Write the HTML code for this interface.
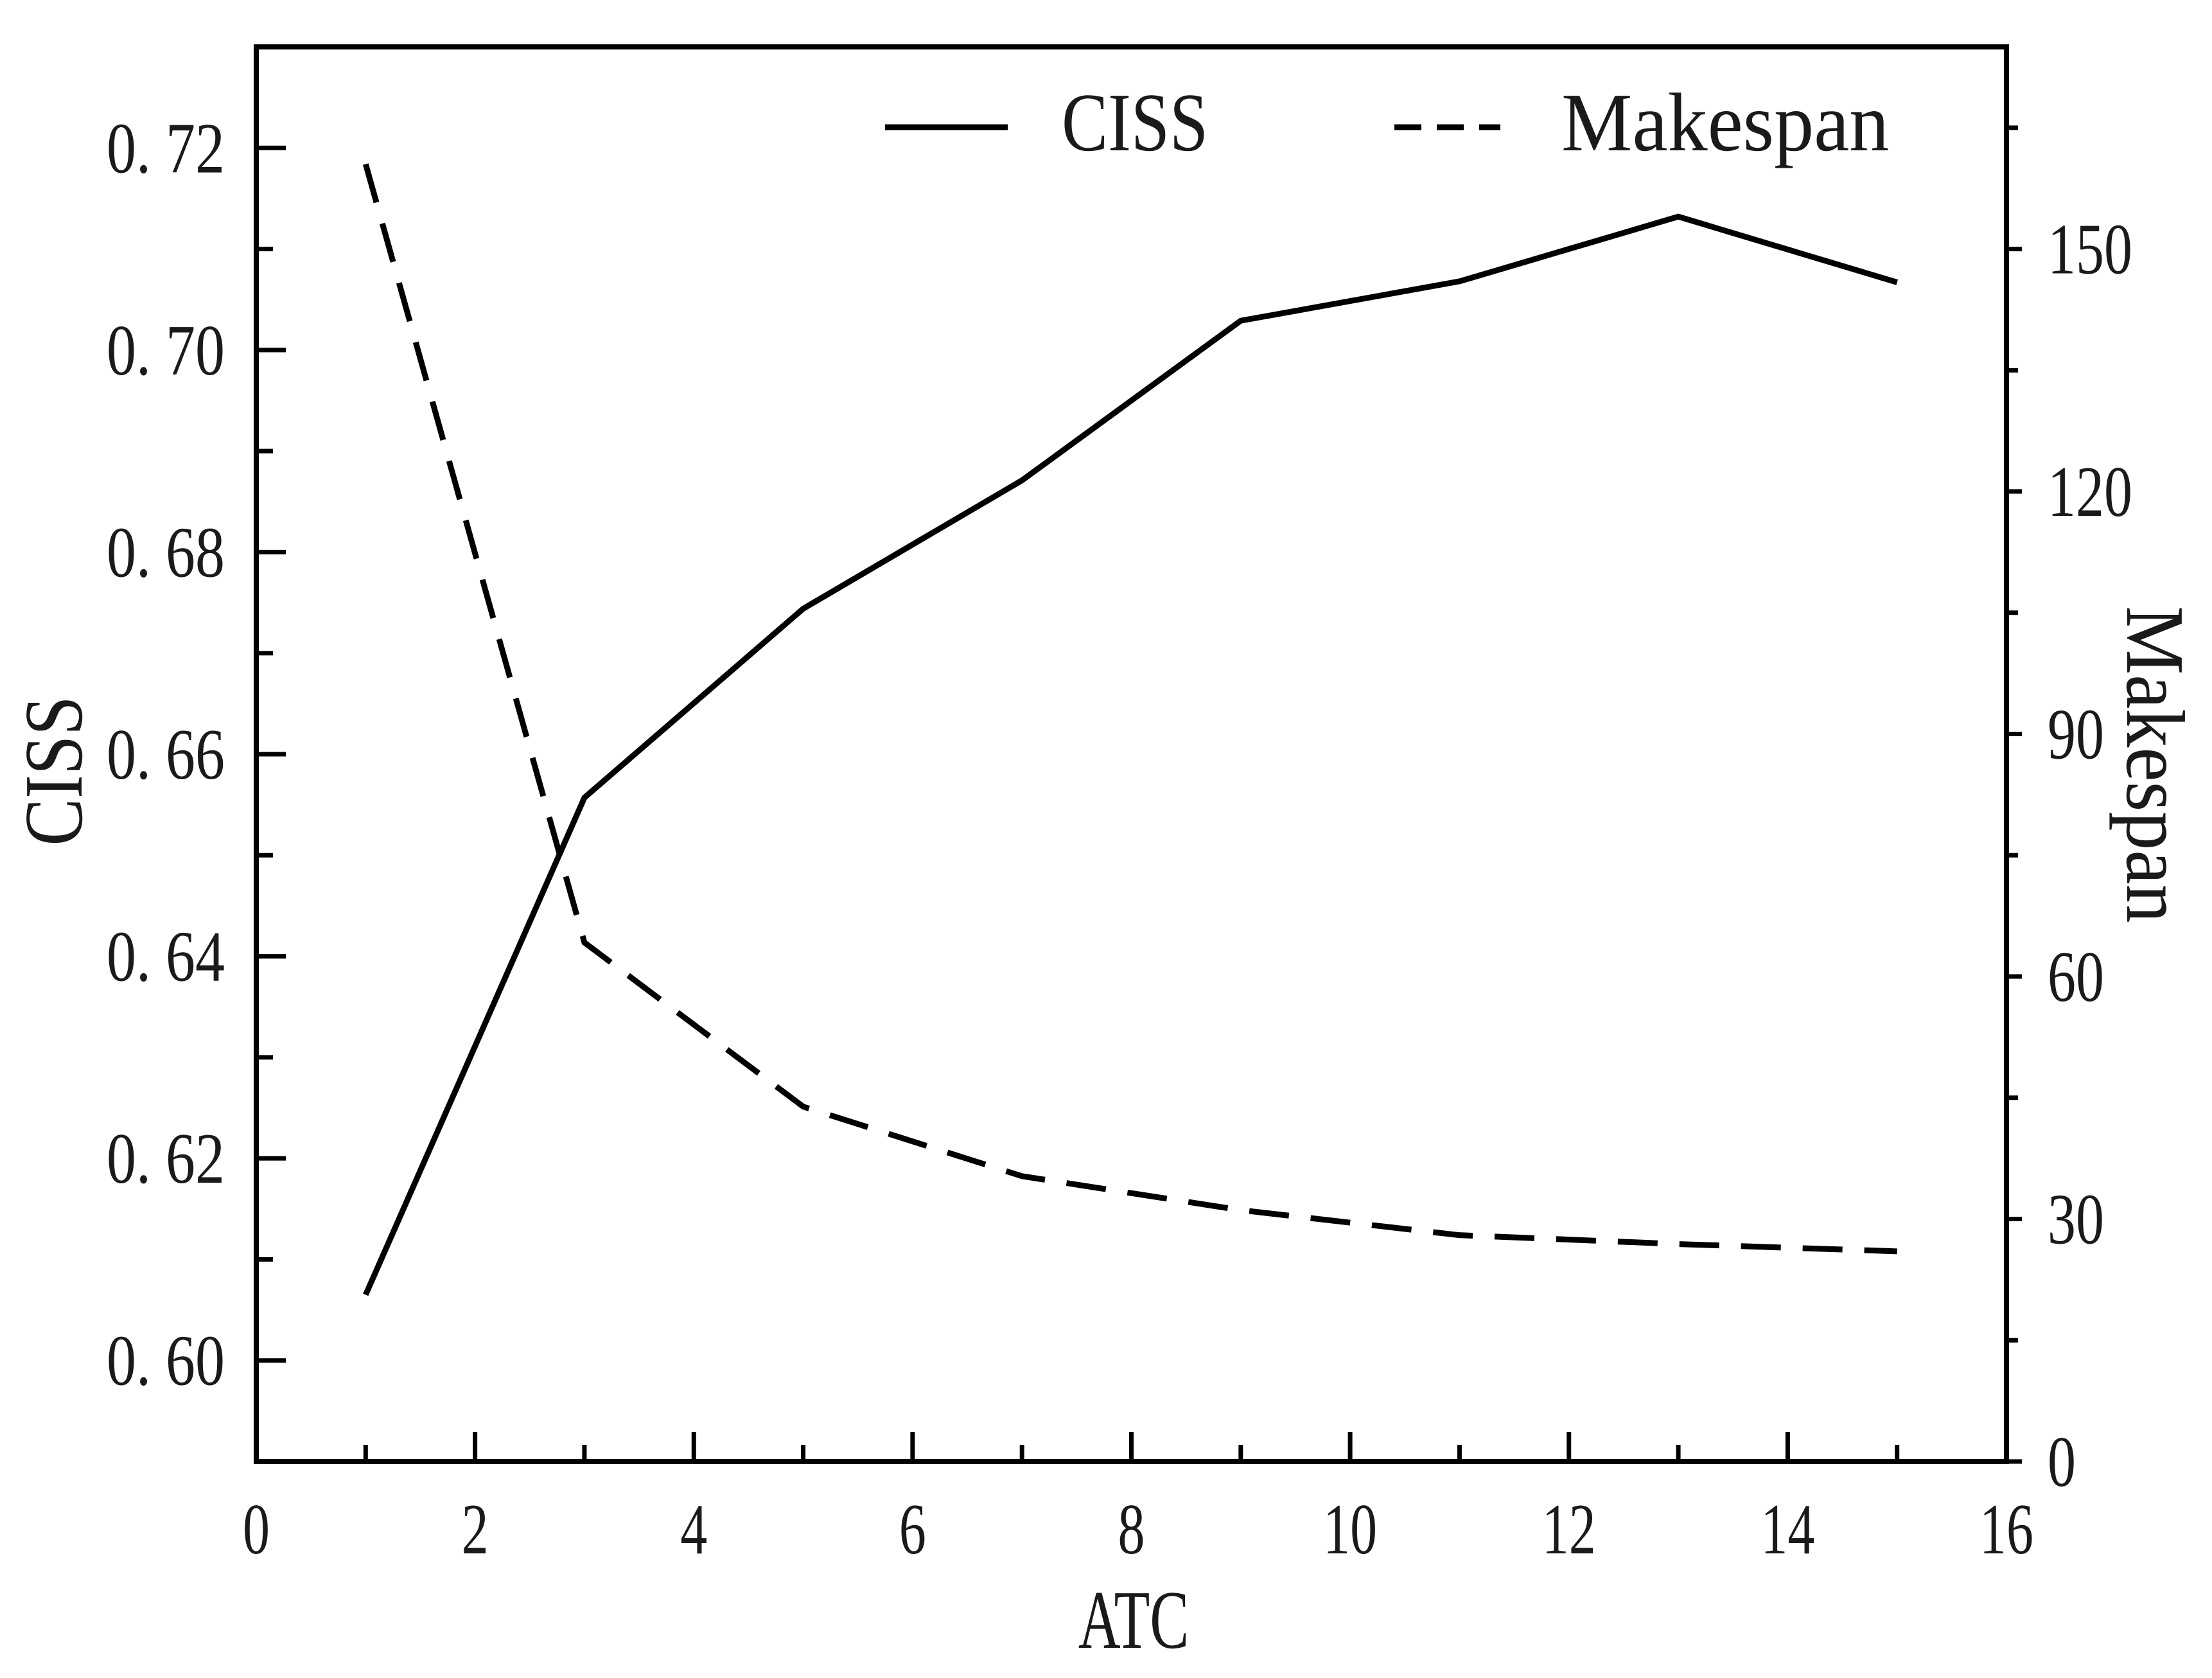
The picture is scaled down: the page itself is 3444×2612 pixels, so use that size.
<!DOCTYPE html>
<html><head><meta charset="utf-8"><style>
html,body{margin:0;padding:0;background:#fff;}
svg text{font-family:"Liberation Serif","Noto Serif CJK SC",serif;fill:#1a1a1a;}
</style></head><body>
<svg id="chart" width="3444" height="2607" xmlns="http://www.w3.org/2000/svg"></svg>
<script>
const xCats = [1,3,5,7,9,11,13,15];
const cissVals = [0.6065,0.6557,0.6744,0.6871,0.7029,0.7068,0.7132,0.7067];
const makespanVals = [160.5,64.2,43.9,35.3,31.1,28.0,26.9,26.0];
const xTicks = [0,2,4,6,8,10,12,14,16];
const leftTicks = [0.60,0.62,0.64,0.66,0.68,0.70,0.72];
const rightTicks = [0,30,60,90,120,150];

const L=399,R=3124,T=73,B=2275;
const sx=v=>L+(v-0)/16*(R-L);
const syL=v=>B-(v-0.59)/0.14*(B-T);
const syR=v=>B-(v-0)/175*(B-T);
const svg=document.getElementById('chart');
const NS='http://www.w3.org/2000/svg';
function mk(tag,attrs,name,text){const e=document.createElementNS(NS,tag);for(const k in attrs)e.setAttribute(k,attrs[k]);


if(text!==undefined)e.textContent=text;svg.appendChild(e);return e;}
function txt(name,str,x,y,size,kx,ky,anchor,rot){
 return mk('text',{x:0,y:0,'font-size':size,'text-anchor':anchor,
  transform:`translate(${x} ${y}) rotate(${rot||0}) scale(${kx} ${ky})`},name,str);}

mk('rect',{x:L,y:T,width:R-L,height:B-T,fill:'none',stroke:'#000','stroke-width':8},'plot-frame');
for(let v=0;v<=16;v++){const major=v%2===0;const x=sx(v);
 mk('line',{x1:x,x2:x,y1:B,y2:B-(major?46:26),stroke:'#000','stroke-width':7},major?'x-major-tick':'x-minor-tick');}
xTicks.forEach(v=>txt('x-tick-label',String(v),sx(v),2418,80,1.05,1.4,'middle'));
for(let i=0;i<=13;i++){const v=0.59+i*0.01;const y=syL(v);const major=(i%2===1);
 mk('line',{x1:L,x2:L+(major?46:26),y1:y,y2:y,stroke:'#000','stroke-width':7},major?'left-major-tick':'left-minor-tick');}
leftTicks.forEach(v=>txt('left-tick-label',v.toFixed(2).replace('.','. '),350,syL(v)+38,80,1.15,1.4,'end'));
for(let v=0;v<=165;v+=15){const y=syR(v);const major=v%30===0;
 mk('line',{x1:R,x2:R+(major?24:18),y1:y,y2:y,stroke:'#000','stroke-width':7},major?'right-major-tick':'right-minor-tick');}
rightTicks.forEach(v=>txt('right-tick-label',String(v),3188,syR(v)+38,80,1.1,1.4,'start'));
txt('x-axis-title','ATC',1765,2565,96,0.95,1.35,'middle');
txt('left-axis-title','CISS',127,1200,96,1.15,1.35,'middle',-90);
txt('right-axis-title','Makespan',3312,1190,96,1.25,1.35,'middle',90);
mk('polyline',{points:xCats.map((x,i)=>sx(x)+','+syL(cissVals[i])).join(' '),fill:'none',stroke:'#000','stroke-width':9,'stroke-linejoin':'miter'},'ciss-line');
mk('polyline',{points:xCats.map((x,i)=>sx(x)+','+syR(makespanVals[i])).join(' '),fill:'none',stroke:'#000','stroke-width':9,'stroke-dasharray':'62 34'},'makespan-line');
mk('line',{x1:1378,x2:1569,y1:198,y2:198,stroke:'#000','stroke-width':9},'legend-ciss-swatch');
txt('legend-ciss-label','CISS',1653,234,108,1.0,1.2,'start');
mk('line',{x1:2171,x2:2336,y1:198,y2:198,stroke:'#000','stroke-width':9,'stroke-dasharray':'42 24'},'legend-makespan-swatch');
txt('legend-makespan-label','Makespan',2431,234,108,1.15,1.2,'start');
</script>
</body></html>
